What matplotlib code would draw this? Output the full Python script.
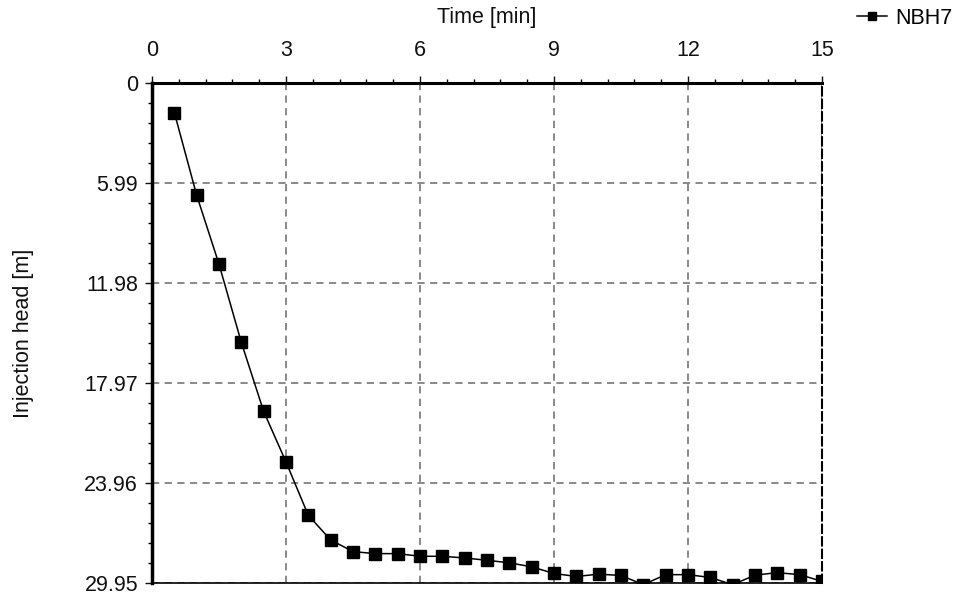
import numpy as np
import matplotlib
matplotlib.use("Agg")
from matplotlib import pyplot as plt
from matplotlib.ticker import FixedLocator, MultipleLocator

plt.rcParams['font.family'] = ['Liberation Sans', 'DejaVu Sans']

# injection test NBH7: time [min] vs injection head [m]
time_min = [0.5, 1.0, 1.5, 2.0, 2.5, 3.0, 3.5, 4.0, 4.5, 5.0,
            5.5, 6.0, 6.5, 7.0, 7.5, 8.0, 8.5, 9.0, 9.5, 10.0,
            10.5, 11.0, 11.5, 12.0, 12.5, 13.0, 13.5, 14.0, 14.5, 15.0]
head_m = [1.77, 6.72, 10.85, 15.54, 19.67, 22.70, 25.90, 27.37, 28.07, 28.19,
          28.19, 28.35, 28.35, 28.45, 28.59, 28.74, 28.98, 29.38, 29.56, 29.42,
          29.50, 30.05, 29.45, 29.45, 29.62, 30.05, 29.48, 29.33, 29.45, 29.85]

x_major = [0, 3, 6, 9, 12, 15]
y_major = [0, 5.99, 11.98, 17.97, 23.96, 29.95]
y_labels = ["0", "5.99", "11.98", "17.97", "23.96", "29.95"]

fig = plt.figure(figsize=(9.61, 6.02), dpi=100)
ax = fig.add_axes([152 / 961, 1 - 583 / 602, 670 / 961, 500 / 602])

line, = ax.plot(time_min, head_m, color="black", linewidth=1.1,
                marker="s", markersize=8, markerfacecolor="black",
                markeredgecolor="black", label="NBH7", zorder=3)

ax.set_xlim(0, 15)
ax.set_ylim(29.95, 0)

ax.xaxis.set_major_locator(FixedLocator(x_major))
ax.xaxis.set_minor_locator(MultipleLocator(0.6))
ax.yaxis.set_major_locator(FixedLocator(y_major))
ax.yaxis.set_minor_locator(MultipleLocator(5.99 / 5))
ax.set_yticklabels(y_labels)

ax.xaxis.tick_top()
ax.xaxis.set_label_position("top")
ax.tick_params(axis="both", which="major", direction="out", length=5,
               width=1, labelsize=15.5, colors="#111111")
ax.tick_params(axis="both", which="minor", direction="out", length=3, width=1)
ax.tick_params(axis="x", which="both", top=True, bottom=False, pad=11)
ax.tick_params(axis="y", which="both", pad=5)

ax.set_xlabel("Time [min]", fontsize=15.5, labelpad=12, color="#111111")
ax.set_ylabel("Injection head [m]", fontsize=15.5, labelpad=36, color="#111111")

ax.grid(True, which="major", color="#808080", linestyle=(0, (4, 3)),
        linewidth=1.3, zorder=1)

ax.spines["left"].set_linewidth(2.5)
ax.spines["top"].set_linewidth(2.2)
ax.spines["bottom"].set_linewidth(1.2)
ax.spines["right"].set_linewidth(1.5)
ax.spines["right"].set_linestyle((0, (4, 2)))

fig.legend(handles=[line], loc="upper right", bbox_to_anchor=(1.007, 1.012),
           frameon=False, fontsize=15.5, handlelength=1.4, handletextpad=0.4,
           borderaxespad=0.3, markerscale=0.75)

fig.savefig("out.png", dpi=100)
